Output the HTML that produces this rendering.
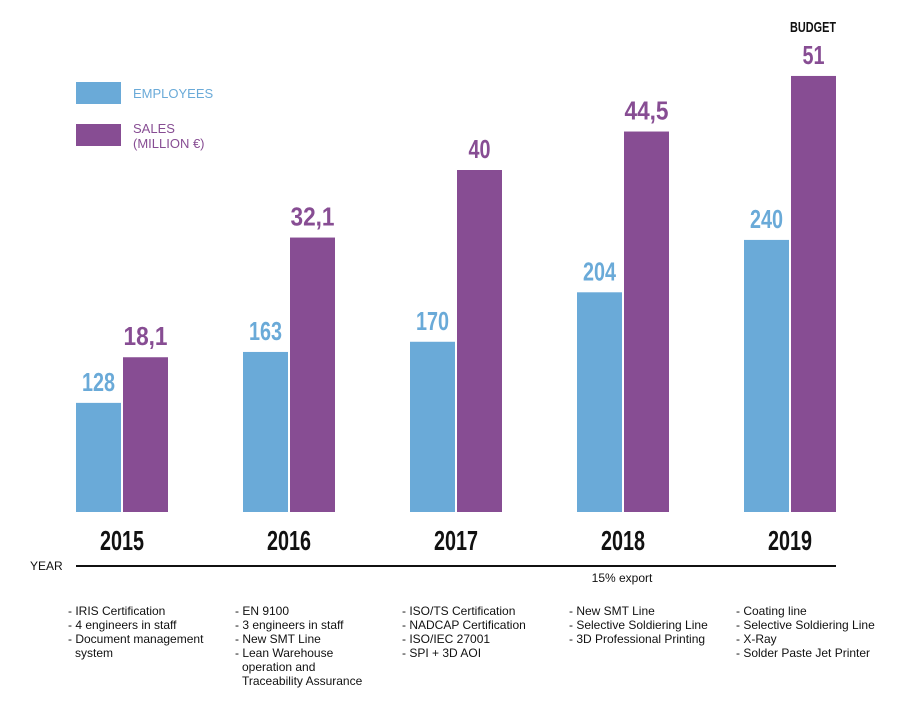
<!DOCTYPE html>
<html><head><meta charset="utf-8"><style>
body{margin:0;background:#fff;}
svg{display:block;font-family:"Liberation Sans",sans-serif;}
</style></head><body>
<svg id="chart" width="900" height="716" viewBox="0 0 900 716">
<g>
<rect x="76" y="82" width="45" height="22" fill="#6aaad8"/>
<text x="133" y="98" font-size="13" fill="#6aaad8">EMPLOYEES</text>
<rect x="76" y="124" width="45" height="22" fill="#874d93"/>
<text x="133" y="133" font-size="13" fill="#874d93">SALES</text>
<text x="133" y="148" font-size="13" fill="#874d93">(MILLION €)</text>
</g>
<text x="813" y="32" font-size="15" font-weight="bold" text-anchor="middle" textLength="46" lengthAdjust="spacingAndGlyphs" fill="#111">BUDGET</text>
<line x1="76" y1="566" x2="836" y2="566" stroke="#111" stroke-width="2"/>
<text x="30" y="570" font-size="12" fill="#111">YEAR</text>
<text x="622" y="582" font-size="12" text-anchor="middle" fill="#111">15% export</text>
<g id="bars"></g>
<g id="notes"></g>
</svg>
<script>
const years = ["2015","2016","2017","2018","2019"];
const employees = [128,163,170,204,240];
const sales = [18.1,32.1,40,44.5,51];
const salesLabels = ["18,1","32,1","40","44,5","51"];
const notes = [
 ["- IRIS Certification","- 4 engineers in staff","- Document management","  system"],
 ["- EN 9100","- 3 engineers in staff","- New SMT Line","- Lean Warehouse","  operation and","  Traceability Assurance"],
 ["- ISO/TS Certification","- NADCAP Certification","- ISO/IEC 27001","- SPI + 3D AOI"],
 ["- New SMT Line","- Selective Soldiering Line","- 3D Professional Printing"],
 ["- Coating line","- Selective Soldiering Line","- X-Ray","- Solder Paste Jet Printer"]
];
const NS="http://www.w3.org/2000/svg";
const base=512, bw=45;
function xGroup(i){return 76+i*167;}
function yEmp(v){return base-(v-53)*1.455;}
function ySales(v){return base-v*8.55;}
const bars=document.getElementById('bars');
function mk(tag,attrs){const e=document.createElementNS(NS,tag);for(const k in attrs)e.setAttribute(k,attrs[k]);return e;}
function label(x,y,txt,fill,fs,w){const t=mk('text',{x:x,y:y,'text-anchor':'middle','font-size':fs,'font-weight':'bold',fill:fill,textLength:w,lengthAdjust:'spacingAndGlyphs'});t.textContent=txt;return t;}
years.forEach((yr,i)=>{
 const x0=xGroup(i);
 const ye=yEmp(employees[i]);
 const r1=mk('rect',{x:x0,y:ye,width:bw,height:base-ye,fill:'#6aaad8'});
 
 
 bars.appendChild(r1);
 const ys=ySales(sales[i]);
 const r2=mk('rect',{x:x0+47,y:ys,width:bw,height:base-ys,fill:'#874d93'});
 
 
 bars.appendChild(r2);
 const t1=label(x0+bw/2,ye-12,String(employees[i]),'#6aaad8',26,String(employees[i]).length*11);
 
 
 bars.appendChild(t1);
 const sl=salesLabels[i];
 const t2=label(x0+47+bw/2,ys-12,sl,'#874d93',26,sl.length*11);
 
 
 bars.appendChild(t2);
 const t3=label(x0+46,550,yr,'#111',28,44);
 
 
 bars.appendChild(t3);
});
const ng=document.getElementById('notes');
notes.forEach((lines,i)=>{
 lines.forEach((ln,j)=>{
  const t=mk('text',{x:xGroup(i)-8+(ln.startsWith('  ')?7:0),y:615+j*14,'font-size':12,fill:'#111'});
  t.textContent=ln.trim();
  
  
  ng.appendChild(t);
 });
});
</script>
</body></html>
